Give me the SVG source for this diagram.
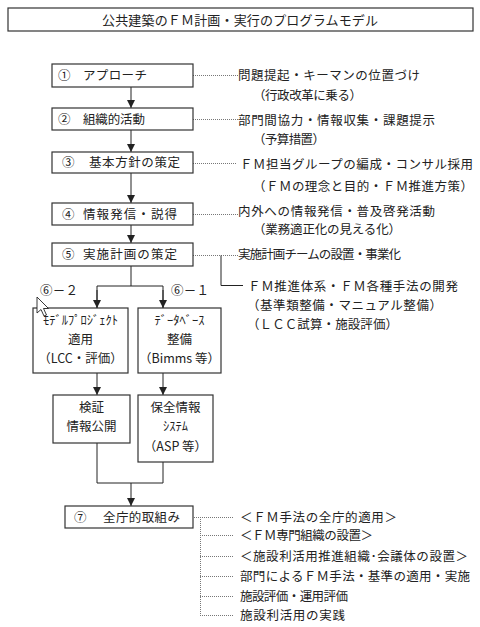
<svg xmlns="http://www.w3.org/2000/svg" width="480" height="627" viewBox="0 0 480 627">
<style>
text{font-family:"Noto Sans CJK JP","Noto Sans",sans-serif;fill:#222;}
.t{font-size:12.5px;}
.b{font-size:12.5px;}
.box{fill:#fff;stroke:#333;stroke-width:1.2;}
.ln{fill:none;stroke:#222;stroke-width:1;}
.dot{fill:none;stroke:#777;stroke-width:1;stroke-dasharray:1 1;}
</style>
<defs>
<marker id="ah" viewBox="0 0 8 8" refX="8" refY="4" markerWidth="8" markerHeight="8" markerUnits="userSpaceOnUse" orient="auto">
<path d="M0,0 L8,4 L0,8 z" fill="#222"/>
</marker>
</defs>
<rect width="480" height="627" fill="#fff"/>

<g id="title">
<rect class="box" x="8" y="8" width="465" height="23"/>
<text x="102" y="25" font-size="13" textLength="276" lengthAdjust="spacing">公共建築のＦＭ計画・実行のプログラムモデル</text>
</g>

<g id="connectors">
<line class="ln" x1="131" y1="87" x2="131" y2="108" marker-end="url(#ah)"/>
<line class="ln" x1="131" y1="130" x2="131" y2="152" marker-end="url(#ah)"/>
<line class="ln" x1="131" y1="173" x2="131" y2="203" marker-end="url(#ah)"/>
<line class="ln" x1="131" y1="225" x2="131" y2="243" marker-end="url(#ah)"/>
<polyline class="ln" points="131,266 131,286"/>
<polyline class="ln" points="97,308 97,286 163,286 163,308"/>
<line class="ln" x1="97" y1="290" x2="97" y2="308" marker-end="url(#ah)"/>
<line class="ln" x1="163" y1="290" x2="163" y2="308" marker-end="url(#ah)"/>
<line class="ln" x1="97" y1="373" x2="97" y2="395" marker-end="url(#ah)"/>
<line class="ln" x1="163" y1="373" x2="163" y2="395" marker-end="url(#ah)"/>
<polyline class="ln" points="97,443 97,483 163,483 163,462"/>
<line class="ln" x1="131" y1="483" x2="131" y2="506" marker-end="url(#ah)"/>
<line class="dot" x1="193" y1="75.5" x2="238" y2="75.5"/>
<line class="dot" x1="193" y1="119.5" x2="238" y2="119.5"/>
<line class="dot" x1="193" y1="163.5" x2="236" y2="163.5"/>
<line class="dot" x1="193" y1="214.5" x2="238" y2="214.5"/>
<line class="dot" x1="193" y1="255.5" x2="238" y2="255.5"/>
<polyline class="ln" points="221,255.5 221,285.5 243,285.5"/>
<line class="dot" x1="170" y1="517.5" x2="233" y2="517.5"/>
<line class="dot" x1="200.5" y1="517" x2="200.5" y2="615"/>
<line class="dot" x1="200" y1="535.5" x2="233" y2="535.5"/>
<line class="dot" x1="200" y1="556.5" x2="233" y2="556.5"/>
<line class="dot" x1="200" y1="576.5" x2="233" y2="576.5"/>
<line class="dot" x1="200" y1="596.5" x2="233" y2="596.5"/>
<line class="dot" x1="200" y1="615.5" x2="233" y2="615.5"/>
</g>

<g id="n1">
<rect class="box" x="52" y="64" width="141" height="23"/>
<text class="b" x="58" y="80">①</text>
<text class="b" x="83" y="80" textLength="64" lengthAdjust="spacing">アプローチ</text>
</g>
<g id="n2">
<rect class="box" x="52" y="108" width="141" height="22"/>
<text class="b" x="58" y="124">②</text>
<text class="b" x="83" y="124" textLength="62" lengthAdjust="spacing">組織的活動</text>
</g>
<g id="n3">
<rect class="box" x="52" y="152" width="141" height="21"/>
<text class="b" x="62" y="167">③</text>
<text class="b" x="89" y="167" textLength="91" lengthAdjust="spacing">基本方針の策定</text>
</g>
<g id="n4">
<rect class="box" x="52" y="203" width="141" height="22"/>
<text class="b" x="62" y="219">④</text>
<text class="b" x="83" y="219" textLength="94" lengthAdjust="spacing">情報発信・説得</text>
</g>
<g id="n5">
<rect class="box" x="52" y="243" width="141" height="23"/>
<text class="b" x="62" y="259">⑤</text>
<text class="b" x="83" y="259" textLength="94" lengthAdjust="spacing">実施計画の策定</text>
</g>

<g id="l6-2"><text class="t" x="40" y="295" textLength="38" lengthAdjust="spacing">⑥－２</text></g>
<g id="l6-1"><text class="t" x="171" y="295" textLength="38" lengthAdjust="spacing">⑥－１</text></g>

<g id="n6-2">
<rect class="box" x="33" y="308" width="95" height="65"/>
<text class="b" x="80.5" y="325" text-anchor="middle">ﾓﾃﾞﾙﾌﾟﾛｼﾞｪｸﾄ</text>
<text class="b" x="80.5" y="344" text-anchor="middle">適用</text>
<text class="b" x="80.5" y="363" text-anchor="middle">（LCC・評価）</text>
</g>
<g id="n6-1">
<rect class="box" x="138" y="308" width="83" height="65"/>
<text class="b" x="179.5" y="325" text-anchor="middle">ﾃﾞｰﾀﾍﾞｰｽ</text>
<text class="b" x="179.5" y="344" text-anchor="middle">整備</text>
<text class="b" x="179.5" y="363" text-anchor="middle">（Bimms 等）</text>
</g>
<g id="n-kensho">
<rect class="box" x="53" y="395" width="77" height="48"/>
<text class="b" x="91.5" y="412" text-anchor="middle">検証</text>
<text class="b" x="91.5" y="431" text-anchor="middle">情報公開</text>
</g>
<g id="n-hozen">
<rect class="box" x="138" y="395" width="75" height="67"/>
<text class="b" x="175.5" y="412" text-anchor="middle">保全情報</text>
<text class="b" x="175.5" y="431" text-anchor="middle">ｼｽﾃﾑ</text>
<text class="b" x="175.5" y="451" text-anchor="middle">（ASP 等）</text>
</g>
<g id="n7">
<rect class="box" x="65" y="506" width="128" height="22"/>
<text class="b" x="74" y="522">⑦</text>
<text class="b" x="103" y="522" textLength="77" lengthAdjust="spacing">全庁的取組み</text>
</g>

<g id="notes">
<text class="t" x="238" y="80" textLength="182" lengthAdjust="spacing">問題提起・キーマンの位置づけ</text>
<text class="t" x="253" y="100" textLength="109" lengthAdjust="spacing">（行政改革に乗る）</text>
<text class="t" x="238" y="125" textLength="197" lengthAdjust="spacing">部門間協力・情報収集・課題提示</text>
<text class="t" x="253" y="144" textLength="72" lengthAdjust="spacing">（予算措置）</text>
<text class="t" x="240" y="169" textLength="233" lengthAdjust="spacing">ＦＭ担当グループの編成・コンサル採用</text>
<text class="t" x="253" y="191" textLength="220" lengthAdjust="spacing">（ＦＭの理念と目的・ＦＭ推進方策）</text>
<text class="t" x="238" y="216" textLength="197" lengthAdjust="spacing">内外への情報発信・普及啓発活動</text>
<text class="t" x="253" y="234" textLength="148" lengthAdjust="spacing">（業務適正化の見える化）</text>
<text class="t" x="238" y="259" textLength="163" lengthAdjust="spacing">実施計画チームの設置・事業化</text>
<text class="t" x="248" y="291" textLength="210" lengthAdjust="spacing">ＦＭ推進体系・ＦＭ各種手法の開発</text>
<text class="t" x="247" y="310" textLength="195" lengthAdjust="spacing">（基準類整備・マニュアル整備）</text>
<text class="t" x="247" y="329" textLength="151" lengthAdjust="spacing">（ＬＣＣ試算・施設評価）</text>
<text class="t" x="240" y="522" textLength="157" lengthAdjust="spacing">＜ＦＭ手法の全庁的適用＞</text>
<text class="t" x="240" y="540" textLength="133" lengthAdjust="spacing">＜ＦＭ専門組織の設置＞</text>
<text class="t" x="240" y="561" textLength="228" lengthAdjust="spacing">＜施設利活用推進組織･会議体の設置＞</text>
<text class="t" x="240" y="581" textLength="230" lengthAdjust="spacing">部門によるＦＭ手法・基準の適用・実施</text>
<text class="t" x="240" y="601" textLength="108" lengthAdjust="spacing">施設評価・運用評価</text>
<text class="t" x="240" y="620" textLength="105" lengthAdjust="spacing">施設利活用の実践</text>
</g>

<path d="M37,297 L37,313 L41,309.5 L44,316 L46.5,315 L43.5,308.5 L48.5,308.5 Z" fill="#fff" stroke="#222" stroke-width="0.9"/>
</svg>
